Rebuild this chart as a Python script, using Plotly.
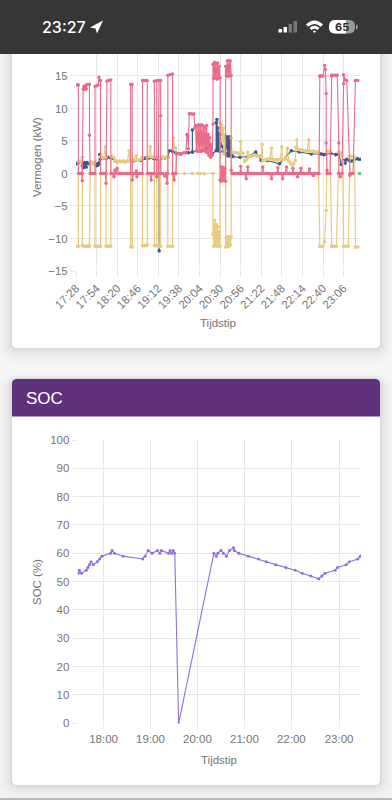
import re
import plotly.graph_objects as go

W, H = 392, 800
DAY = "2024-05-01 "

# ---------- chart 1: Vermogen (kW) ----------
power_ticks = ["17:28","17:54","18:20","18:46","19:12","19:38","20:04","20:30","20:56","21:22","21:48","22:14","22:40","23:06"]
power_yticks = [-15,-10,-5,0,5,10,15]

navy_t = ["17:28","17:30","17:31","17:35","17:36","17:37","17:38","17:39","17:40","17:41","17:42","17:44","17:46","17:50","17:54","17:55","17:56","17:57","17:58","17:59","18:02","18:06","18:09","18:12","18:15","18:20","18:30","18:40","18:50","18:53","18:54","18:56","19:00","19:06","19:10","19:13","19:13","19:13","19:15","19:20","19:24","19:26","19:30","19:34","19:40","19:50","19:55","19:55","19:55","20:05","20:13","20:20","20:25","20:25","20:26","20:26","20:27","20:27","20:28","20:28","20:29","20:29","20:30","20:30","20:32","20:35","20:38","20:38","20:39","20:39","20:40","20:40","20:41","20:41","20:42","20:42","20:43","20:43","20:44","20:44","20:46","20:55","21:05","21:15","21:22","21:30","21:45","22:00","22:10","22:25","22:36","22:38","22:41","22:44","22:50","22:56","22:59","23:00","23:03","23:07","23:08","23:10","23:13","23:16","23:20","23:23","23:25","23:28"]
navy_kw = [1.5,1.6,1.7,1.8,1.2,0.9,1.7,1.0,1.6,1.0,1.7,1.5,1.7,1.5,1.2,1.5,1.3,1.6,2.9,2.3,2.3,2.3,2.5,2.4,2.3,1.8,1.8,1.9,2.0,2.3,2.3,2.4,2.4,2.3,2.2,2.3,-11.9,2.4,2.3,2.4,2.5,3.5,3.4,3.2,3.0,3.2,3.3,6.7,3.3,3.5,3.9,3.0,3.5,7.8,3.6,8.3,3.7,7.0,3.5,6.2,3.8,5.8,3.4,6.0,4.2,3.3,2.9,5.7,2.8,5.5,2.7,5.6,2.9,5.4,2.8,5.6,2.7,5.5,3.0,3.0,2.6,2.5,2.6,3.3,2.0,2.0,1.5,3.5,3.3,3.0,3.0,3.0,2.9,3.0,3.1,2.9,3.0,3.0,1.4,2.0,1.6,2.2,2.0,1.9,2.2,2.3,2.2,2.2]

yellow_t = ["17:28","17:29","17:31","17:31","17:33","17:35","17:36","17:36","17:38","17:40","17:42","17:44","17:45","17:46","17:48","17:50","17:52","17:52","17:54","17:56","17:58","17:59","17:59","18:00","18:02","18:03","18:05","18:06","18:06","18:08","18:10","18:12","18:12","18:14","18:16","18:17","18:19","18:21","18:23","18:25","18:27","18:29","18:31","18:33","18:35","18:36","18:37","18:37","18:39","18:39","18:41","18:43","18:44","18:46","18:48","18:50","18:52","18:52","18:54","18:56","18:58","18:58","19:00","19:02","19:03","19:05","19:07","19:07","19:09","19:10","19:10","19:13","19:13","19:15","19:15","19:17","19:19","19:21","19:23","19:24","19:24","19:27","19:30","19:30","19:31","19:33","19:34","19:35","19:45","19:55","20:02","20:05","20:10","20:21","20:21","20:22","20:23","20:24","20:25","20:26","20:27","20:28","20:29","20:30","20:30","20:31","20:32","20:33","20:34","20:35","20:36","20:37","20:37","20:38","20:39","20:40","20:41","20:42","20:43","20:44","20:44","20:45","20:47","20:49","20:51","20:53","20:55","20:56","20:57","20:59","21:01","21:02","21:04","21:05","21:06","21:08","21:10","21:12","21:14","21:16","21:18","21:20","21:22","21:23","21:24","21:25","21:27","21:29","21:31","21:33","21:35","21:36","21:38","21:40","21:42","21:44","21:46","21:48","21:49","21:51","21:53","21:55","21:56","21:57","21:59","22:01","22:03","22:05","22:06","22:07","22:08","22:10","22:12","22:14","22:16","22:18","22:20","22:22","22:23","22:24","22:26","22:28","22:30","22:32","22:34","22:36","22:36","22:38","22:40","22:42","22:44","22:45","22:45","22:47","22:49","22:51","22:51","22:54","22:57","23:00","23:00","23:02","23:04","23:05","23:06","23:06","23:09","23:12","23:14","23:14","23:16","23:18","23:20","23:21","23:21","23:24","23:28"]
yellow_kw = [-11.2,-11.2,-11.2,1.8,1.9,1.9,2.5,-11.1,-11.2,-11.2,-11.2,-11.1,-11.2,1.8,1.7,1.5,1.8,-11.2,-11.2,-11.2,-11.2,-11.2,2.6,2.5,2.4,2.4,4.1,2.5,-11.2,-11.2,-11.2,-11.2,2.6,2.7,2.4,1.9,1.9,1.8,1.9,1.8,1.9,1.9,1.8,1.9,3.5,1.9,1.9,-11.3,-11.3,1.9,2.1,2.2,2.7,2.0,2.1,2.2,2.4,-11.1,-11.1,-11.1,-11.0,2.5,2.6,4.1,2.6,2.5,2.5,-11.1,-11.1,-11.1,2.5,2.4,-11.2,-11.2,2.5,2.5,2.5,2.5,2.5,2.5,-11.2,-11.2,-11.2,3.8,5.5,4.0,3.9,0,0,0,0,0,0,0,-9.3,-11.2,-7.2,-11.0,-7.8,-11.2,-8.2,-11.2,-9.0,-11.2,7.8,6.5,7.5,5.0,7.0,3.0,6.0,3.5,-11.3,-9.8,-11.3,-9.7,-11.2,-9.8,-11.0,-9.7,5.5,3.3,3.2,3.2,3.2,3.1,3.1,4.9,3.1,3.1,1.9,2.0,2.2,3.3,2.6,2.7,2.7,2.8,2.8,2.7,2.7,2.7,2.7,4.5,2.0,2.0,2.1,2.2,2.2,2.3,3.9,2.2,2.1,2.1,2.1,2.1,2.2,4.1,2.1,2.2,2.3,3.9,2.0,1.8,1.6,1.3,1.5,2.0,4.0,5.2,3.7,3.7,3.6,3.6,3.5,3.5,3.5,5.2,3.4,3.4,3.4,3.4,3.3,3.3,3.3,-11.2,-11.2,-11.2,-11.2,-10.5,-5.7,3.3,3.4,3.4,3.4,-11.2,-11.2,-11.2,-11.2,3.3,3.3,3.2,2.8,1.8,-11.2,-11.2,-11.2,-11.2,2.7,2.7,2.6,2.6,2.5,-11.3,-11.3,-11.3]

pink_t = ["17:28","17:30","17:31","17:31","17:33","17:35","17:36","17:36","17:37","17:38","17:39","17:40","17:41","17:42","17:44","17:45","17:45","17:46","17:48","17:50","17:52","17:52","17:54","17:56","17:57","17:58","17:59","17:59","18:01","18:03","18:05","18:06","18:06","18:07","18:09","18:12","18:12","18:14","18:16","18:17","18:18","18:20","18:22","18:24","18:26","18:28","18:30","18:32","18:34","18:36","18:37","18:37","18:39","18:39","18:41","18:43","18:44","18:45","18:47","18:49","18:51","18:52","18:52","18:54","18:56","18:58","18:58","19:00","19:01","19:03","19:04","19:06","19:07","19:07","19:10","19:10","19:12","19:13","19:15","19:15","19:15","19:18","19:20","19:22","19:23","19:24","19:24","19:27","19:30","19:30","19:32","19:33","19:34","19:35","19:38","19:41","19:44","19:47","19:48","19:49","19:50","19:51","19:53","19:55","19:57","19:58","19:59","20:00","20:01","20:02","20:03","20:04","20:05","20:06","20:07","20:08","20:09","20:10","20:11","20:12","20:13","20:14","20:15","20:16","20:17","20:18","20:19","20:20","20:21","20:21","20:22","20:23","20:24","20:25","20:26","20:27","20:28","20:29","20:30","20:30","20:31","20:32","20:33","20:34","20:35","20:36","20:37","20:37","20:38","20:39","20:40","20:41","20:42","20:43","20:44","20:44","20:45","20:47","20:49","20:51","20:53","20:55","20:56","20:57","20:59","21:01","21:03","21:04","21:05","21:06","21:08","21:10","21:12","21:14","21:16","21:18","21:20","21:22","21:24","21:25","21:27","21:29","21:31","21:33","21:35","21:36","21:38","21:40","21:42","21:43","21:44","21:46","21:48","21:49","21:50","21:52","21:54","21:55","21:57","21:59","22:01","22:02","22:03","22:05","22:07","22:08","22:09","22:11","22:12","22:13","22:15","22:17","22:19","22:21","22:23","22:24","22:26","22:28","22:29","22:31","22:33","22:35","22:36","22:36","22:38","22:40","22:42","22:43","22:44","22:44","22:45","22:45","22:47","22:49","22:51","22:51","22:53","22:56","22:58","23:00","23:00","23:00","23:02","23:04","23:06","23:06","23:08","23:10","23:14","23:14","23:16","23:18","23:21","23:21","23:24","23:28"]
pink_kw = [13.6,13.6,13.6,0,0,0,-1.1,0,13.0,13.4,12.9,13.5,13.0,13.7,13.7,13.7,5.9,0,0,0,0,13.4,13.5,13.6,14.8,14.3,14.3,0,0,0,0,-1.5,0,14.2,14.3,14.4,0,0,-0.5,0.5,0,0.8,0,0,0,0,0,0,0,0,0,13.7,13.7,-1.0,0,0,0.4,-0.5,0,0,0,0,14.3,14.3,14.3,14.3,0,0,0,-1.0,0,0,0,14.2,14.3,-0.5,0,14.3,14.3,8.9,0,0,-0.4,0,-1.5,0,15.1,15.2,15.3,0,-1.0,0,0,3.0,3.1,3.0,3.2,3.2,6.0,5.8,3.8,9.2,9.2,9.1,9.2,7.0,7.4,3.5,7.3,3.4,7.5,3.5,7.4,3.4,7.5,3.5,7.3,3.6,7.0,3.3,7.4,3.2,6.0,2.8,5.5,2.5,4.5,2.8,7.6,16.8,14.6,17.1,14.8,16.9,14.5,17.0,14.7,16.5,14.7,-1.0,-1.2,1.0,-1.1,0.9,-1.0,0.8,-1.2,16.5,15.0,17.3,15.0,17.4,15.0,17.3,15.1,0.5,0,0,0,0,0,0,1.1,0,0,0,-0.8,0,1.0,0,0,0,0,0,0,0,0,0,1.0,0,0,0,0,0,-0.8,0,0,0,0,0.9,0,0,0,-0.8,0,0,1.0,0,0,0,0,0.8,0,0,0,-0.5,0,0,0.8,0,0,0,0,0,0.7,0,0,-0.3,0,0,0,0,15.0,15.0,15.0,15.0,16.6,16.0,12.3,4.7,0,0.5,0,0,15.0,15.1,15.1,15.1,15.1,4.7,0,0,-0.5,0,13.8,15.2,14.4,14.3,0,-0.3,0,0,14.3,14.3,14.3]

green_t = ["23:26","23:28"]
green_kw = [0,0]

# ---------- chart 2: SOC (%) ----------
soc_ticks = ["18:00","19:00","20:00","21:00","22:00","23:01"]
soc_tick_text = ["18:00","19:00","20:00","21:00","22:00","23:00"]
soc_yticks = [0,10,20,30,40,50,60,70,80,90,100]
soc_t = ["17:28","17:29","17:32","17:38","17:40","17:42","17:44","17:47","17:52","17:55","17:58","18:09","18:11","18:14","18:25","18:50","18:53","18:57","19:02","19:09","19:12","19:14","19:23","19:25","19:27","19:29","19:31","19:36","20:21","20:24","20:26","20:30","20:33","20:37","20:41","20:46","20:47","20:53","21:05","21:18","21:28","21:40","21:53","22:05","22:14","22:25","22:35","22:39","22:43","22:56","22:59","23:10","23:14","23:25","23:28"]
soc_pct = [53,54,53,54,55,56,57,56,57,58,59,60,61,60,59,58,59,61,60,61,60,61,60,61,60,61,60,0,60,59,60,61,60,59,61,62,61,60,59,58,57,56,55,54,53,52,51,52,53,54,55,56,57,58,59]

PINK = "#EA6A8C"; YELLOW = "#E8CB82"; NAVY = "#3B5B8E"; GREEN = "#6FBF8B"; PURPLE = "#8F6FDB"
GRID = "#E7E7E7"; TICK = "#757575"; FONT = "Liberation Sans, Arial, sans-serif"

def stamp(ts):
    return [DAY + s for s in ts]

def fx(px):
    return px / W

def fy(py):
    return 1 - py / H

def to_paper(d):
    """Pixel path -> paper-fraction path."""
    return re.sub(r"(-?[\d.]+),(-?[\d.]+)", lambda m: f"{fx(float(m[1])):.5f},{fy(float(m[2])):.5f}", d)

def round_rect(x0, y0, x1, y1, rt, rb=None):
    rb = rt if rb is None else rb
    return (f"M{x0+rt},{y0} L{x1-rt},{y0} Q{x1},{y0} {x1},{y0+rt} L{x1},{y1-rb} Q{x1},{y1} {x1-rb},{y1} "
            f"L{x0+rb},{y1} Q{x0},{y1} {x0},{y1-rb} L{x0},{y0+rt} Q{x0},{y0} {x0+rt},{y0} Z")

def path(d, fill, layer="below"):
    return dict(type="path", path=to_paper(d), xref="paper", yref="paper", fillcolor=fill, layer=layer,
                line=dict(color="rgba(0,0,0,0)", width=0))

shapes = []
# card shadows
for card in [(12, 30, 380, 348), (12, 379, 380, 785)]:
    for g, a in [(14, .006), (11, .008), (8, .012), (6, .014), (4, .018), (2, .022), (1, .03)]:
        shapes.append(path(round_rect(card[0]-g, card[1]-g*0.4, card[2]+g, card[3]+g*1.2, 5+g), f"rgba(0,0,0,{a})"))
    shapes.append(path(round_rect(*card, 5), "#FFFFFF"))
# SOC header
shapes.append(path("M12,416.5 L12,384 Q12,379 17,379 L375,379 Q380,379 380,384 L380,416.5 Z", "#60317A"))
# bottom edge of the photographed page
shapes.append(path(f"M0,798 L{W},798 L{W},{H} L0,{H} Z", "#B9B9B9"))
# status bar
shapes.append(path(f"M0,0 L{W},0 L{W},54 L0,54 Z", "#363636", layer="above"))
shapes.append(path("M90,27.5 L103,20.5 L97,33.5 L95.5,28.5 Z", "#FFFFFF", layer="above"))
for x, top, col in [(278.5, 29, "#FFFFFF"), (283.5, 27, "#FFFFFF"), (288.5, 24, "#777777"), (293.5, 21, "#777777")]:
    shapes.append(path(f"M{x},{top} L{x+3.5},{top} L{x+3.5},32.5 L{x},32.5 Z", col, layer="above"))
shapes.append(path("M306,24.5 Q314.5,16.5 323,24.5 L320.8,26.8 Q314.5,21 308.2,26.8 Z", "#FFFFFF", layer="above"))
shapes.append(path("M309.5,28 Q314.5,23.5 319.5,28 L317.4,30 Q314.5,27.4 311.6,30 Z", "#FFFFFF", layer="above"))
shapes.append(path("M312.8,31.2 Q314.5,29.6 316.2,31.2 L314.5,33 Z", "#FFFFFF", layer="above"))
shapes.append(path(round_rect(329, 20, 355, 33.5, 6), "#9A9A9A", layer="above"))
shapes.append(path("M335,20 L346,20 L346,33.5 L335,33.5 Q329,33.5 329,27 Q329,20 335,20 Z", "#FFFFFF", layer="above"))
shapes.append(path("M356,24.5 Q358,25.5 358,27 Q358,28.5 356,29.5 Z", "#9A9A9A", layer="above"))

def note(text, x, y, size, color, angle=0, anchor="center", weight=None, family=FONT):
    return dict(text=text, xref="paper", yref="paper", x=fx(x), y=fy(y), showarrow=False, textangle=angle,
                xanchor=anchor, yanchor="middle", font=dict(family=family, size=size, color=color, weight=weight),
                borderpad=0, borderwidth=0)

annotations = [
    note("23:27", 42, 27, 16, "#FFFFFF", anchor="left", weight=500, family="Inter, sans-serif"),
    note("65", 342, 27, 11, "#2B2B2B", weight=700, family="Inter, sans-serif"),
    note("Vermogen (kW)", 37, 157, 11.5, TICK, angle=-90),
    note("Tijdstip", 218, 323, 11.5, TICK),
    note("SOC", 26, 398, 17, "#FFFFFF", anchor="left"),
    note("SOC (%)", 37, 582, 11.5, TICK, angle=-90),
    note("Tijdstip", 219, 760, 11.5, TICK),
]

fig = go.Figure()

def series(t, v, color, xa, ya, name, size=3.6, width=1.2):
    fig.add_trace(go.Scatter(x=stamp(t), y=v, mode="lines+markers", name=name, xaxis=xa, yaxis=ya,
                             line=dict(color=color, width=width), marker=dict(color=color, size=size),
                             showlegend=False))

series(green_t, green_kw, GREEN, "x", "y", "PV")
series(navy_t, navy_kw, NAVY, "x", "y", "Net")
series(yellow_t, yellow_kw, YELLOW, "x", "y", "Batterij")
series(pink_t, pink_kw, PINK, "x", "y", "Laadpaal", size=3.4, width=1.1)
series(soc_t, soc_pct, PURPLE, "x2", "y2", "SOC", size=3, width=1.1)

axis = dict(showgrid=True, gridcolor=GRID, gridwidth=1, zeroline=False, showline=False, automargin=False,
            ticks="outside", ticklen=5, tickwidth=1, tickcolor=GRID,
            tickfont=dict(family=FONT, size=11.5, color=TICK))

fig.update_layout(
    width=W, height=H, margin=dict(l=0, r=0, t=0, b=0, pad=0), autosize=False,
    paper_bgcolor="#F5F5F5", plot_bgcolor="rgba(0,0,0,0)", showlegend=False, hovermode=False,
    shapes=shapes, annotations=annotations,
    xaxis=dict(axis, type="date", domain=[fx(76), fx(361)], anchor="y",
               range=[DAY + "17:28", DAY + "23:28"], tickvals=stamp(power_ticks), ticktext=power_ticks, tickangle=-45),
    yaxis=dict(axis, domain=[fy(271), fy(54)], anchor="x", range=[-15, 18.38], tickvals=power_yticks),
    xaxis2=dict(axis, type="date", domain=[fx(77.7), fx(361)], anchor="y2",
                range=[DAY + "17:27", DAY + "23:29"], tickvals=stamp(soc_ticks), ticktext=soc_tick_text, tickangle=0),
    yaxis2=dict(axis, domain=[fy(723.3), fy(440)], anchor="x2", range=[0, 100], tickvals=soc_yticks),
)

fig.write_html("out.html", config=dict(displayModeBar=False),
               post_script="document.body.style.margin='0';document.body.style.background='#F5F5F5';")
